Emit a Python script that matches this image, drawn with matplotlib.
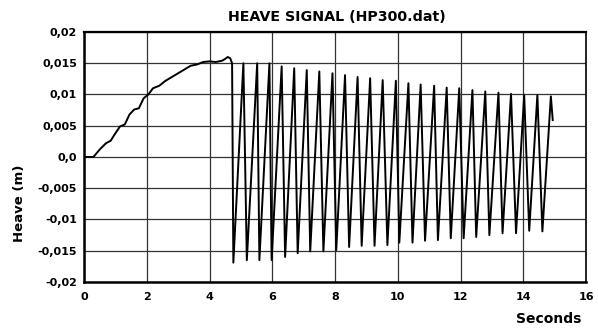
import matplotlib
matplotlib.use("Agg")
import matplotlib.pyplot as plt

# Slow initial heave build-up (seconds, metres)
rise_t = [0.0, 0.3, 0.5, 0.7, 0.85, 1.0, 1.15, 1.3, 1.45, 1.6, 1.75, 1.9, 2.05,
          2.2, 2.4, 2.6, 2.8, 3.0, 3.2, 3.4, 3.6, 3.8, 4.0, 4.2, 4.4, 4.5,
          4.58, 4.66, 4.72]
rise_v = [0.0, 0.0, 0.0012, 0.0022, 0.0026, 0.0038, 0.0049, 0.0052, 0.0068,
          0.0076, 0.0078, 0.0094, 0.0100, 0.0110, 0.0114, 0.0122, 0.0128,
          0.0134, 0.0140, 0.0146, 0.0148, 0.0152, 0.0153, 0.0152, 0.0154,
          0.0157, 0.0160, 0.0158, 0.0150]

# Oscillating phase: troughs and crests
trough_t = [4.76, 5.19, 5.59, 5.98, 6.41, 6.81, 7.21, 7.63, 8.04, 8.45, 8.85,
            9.26, 9.67, 10.05, 10.47, 10.87, 11.28, 11.69, 12.10, 12.50,
            12.92, 13.34, 13.77, 14.19, 14.61]
trough_v = [-0.0169, -0.0165, -0.0165, -0.0165, -0.0160, -0.0154, -0.0151,
            -0.0151, -0.0149, -0.0144, -0.0142, -0.0142, -0.0141, -0.0137,
            -0.0137, -0.0134, -0.0133, -0.0130, -0.0130, -0.0128, -0.0125,
            -0.0122, -0.0122, -0.0118, -0.0119]
crest_t = [5.08, 5.52, 5.91, 6.30, 6.70, 7.10, 7.50, 7.92, 8.32, 8.72, 9.12,
           9.52, 9.94, 10.34, 10.73, 11.16, 11.56, 11.96, 12.38, 12.79, 13.21,
           13.61, 14.03, 14.45, 14.88]
crest_v = [0.0150, 0.0150, 0.0150, 0.0145, 0.0142, 0.0139, 0.0137, 0.0134,
           0.0131, 0.0128, 0.0126, 0.0123, 0.0122, 0.0118, 0.0116, 0.0114,
           0.0111, 0.0110, 0.0107, 0.0105, 0.0103, 0.0101, 0.0099, 0.0099,
           0.0097]
end_t = [14.94]
end_v = [0.0059]

x_ticks = [0, 2, 4, 6, 8, 10, 12, 14, 16]
y_ticks = [-0.02, -0.015, -0.01, -0.005, 0.0, 0.005, 0.01, 0.015, 0.02]
y_tick_labels = ["-0,02", "-0,015", "-0,01", "-0,005", "0,0", "0,005",
                 "0,01", "0,015", "0,02"]

t = list(rise_t)
v = list(rise_v)
for tt, tv, ct, cv in zip(trough_t, trough_v, crest_t, crest_v):
    t += [tt, ct]
    v += [tv, cv]
t += end_t
v += end_v

plt.rcParams['font.family'] = ['DejaVu Sans']

fig = plt.figure(figsize=(5.98, 3.29), dpi=100)
ax = fig.add_axes([84 / 598, 1 - 282 / 329, (586 - 84) / 598, (282 - 32) / 329])

ax.plot(t, v, color='black', lw=1.4, zorder=3)

ax.set_xlim(0, 16)
ax.set_ylim(-0.02, 0.02)
ax.set_xticks(x_ticks)
ax.set_xticklabels([str(x) for x in x_ticks], fontweight='bold', fontsize=8)
ax.set_yticks(y_ticks)
ax.set_yticklabels(y_tick_labels, fontweight='bold', fontsize=8)
ax.tick_params(length=0)
ax.tick_params(axis='y', pad=5)
ax.tick_params(axis='x', pad=7)
ax.grid(True, color='#333333', lw=0.9)
ax.set_axisbelow(True)

for side, w in [('left', 1.8), ('bottom', 1.8), ('top', 1.6), ('right', 1.2)]:
    ax.spines[side].set_linewidth(w)
    ax.spines[side].set_color('black')

fig.text(337 / 598, 1 - 17 / 329, "HEAVE SIGNAL (HP300.dat)", ha='center',
         va='center', fontsize=10.3, fontweight='bold')
fig.text(20 / 598, 1 - 203 / 329, "Heave (m)", rotation=90, ha='center',
         va='center', fontsize=9.5, fontweight='bold')
fig.text(549 / 598, 1 - 319 / 329, "Seconds", ha='center', va='center',
         fontsize=10, fontweight='bold')

fig.savefig("out.png", dpi=100)
